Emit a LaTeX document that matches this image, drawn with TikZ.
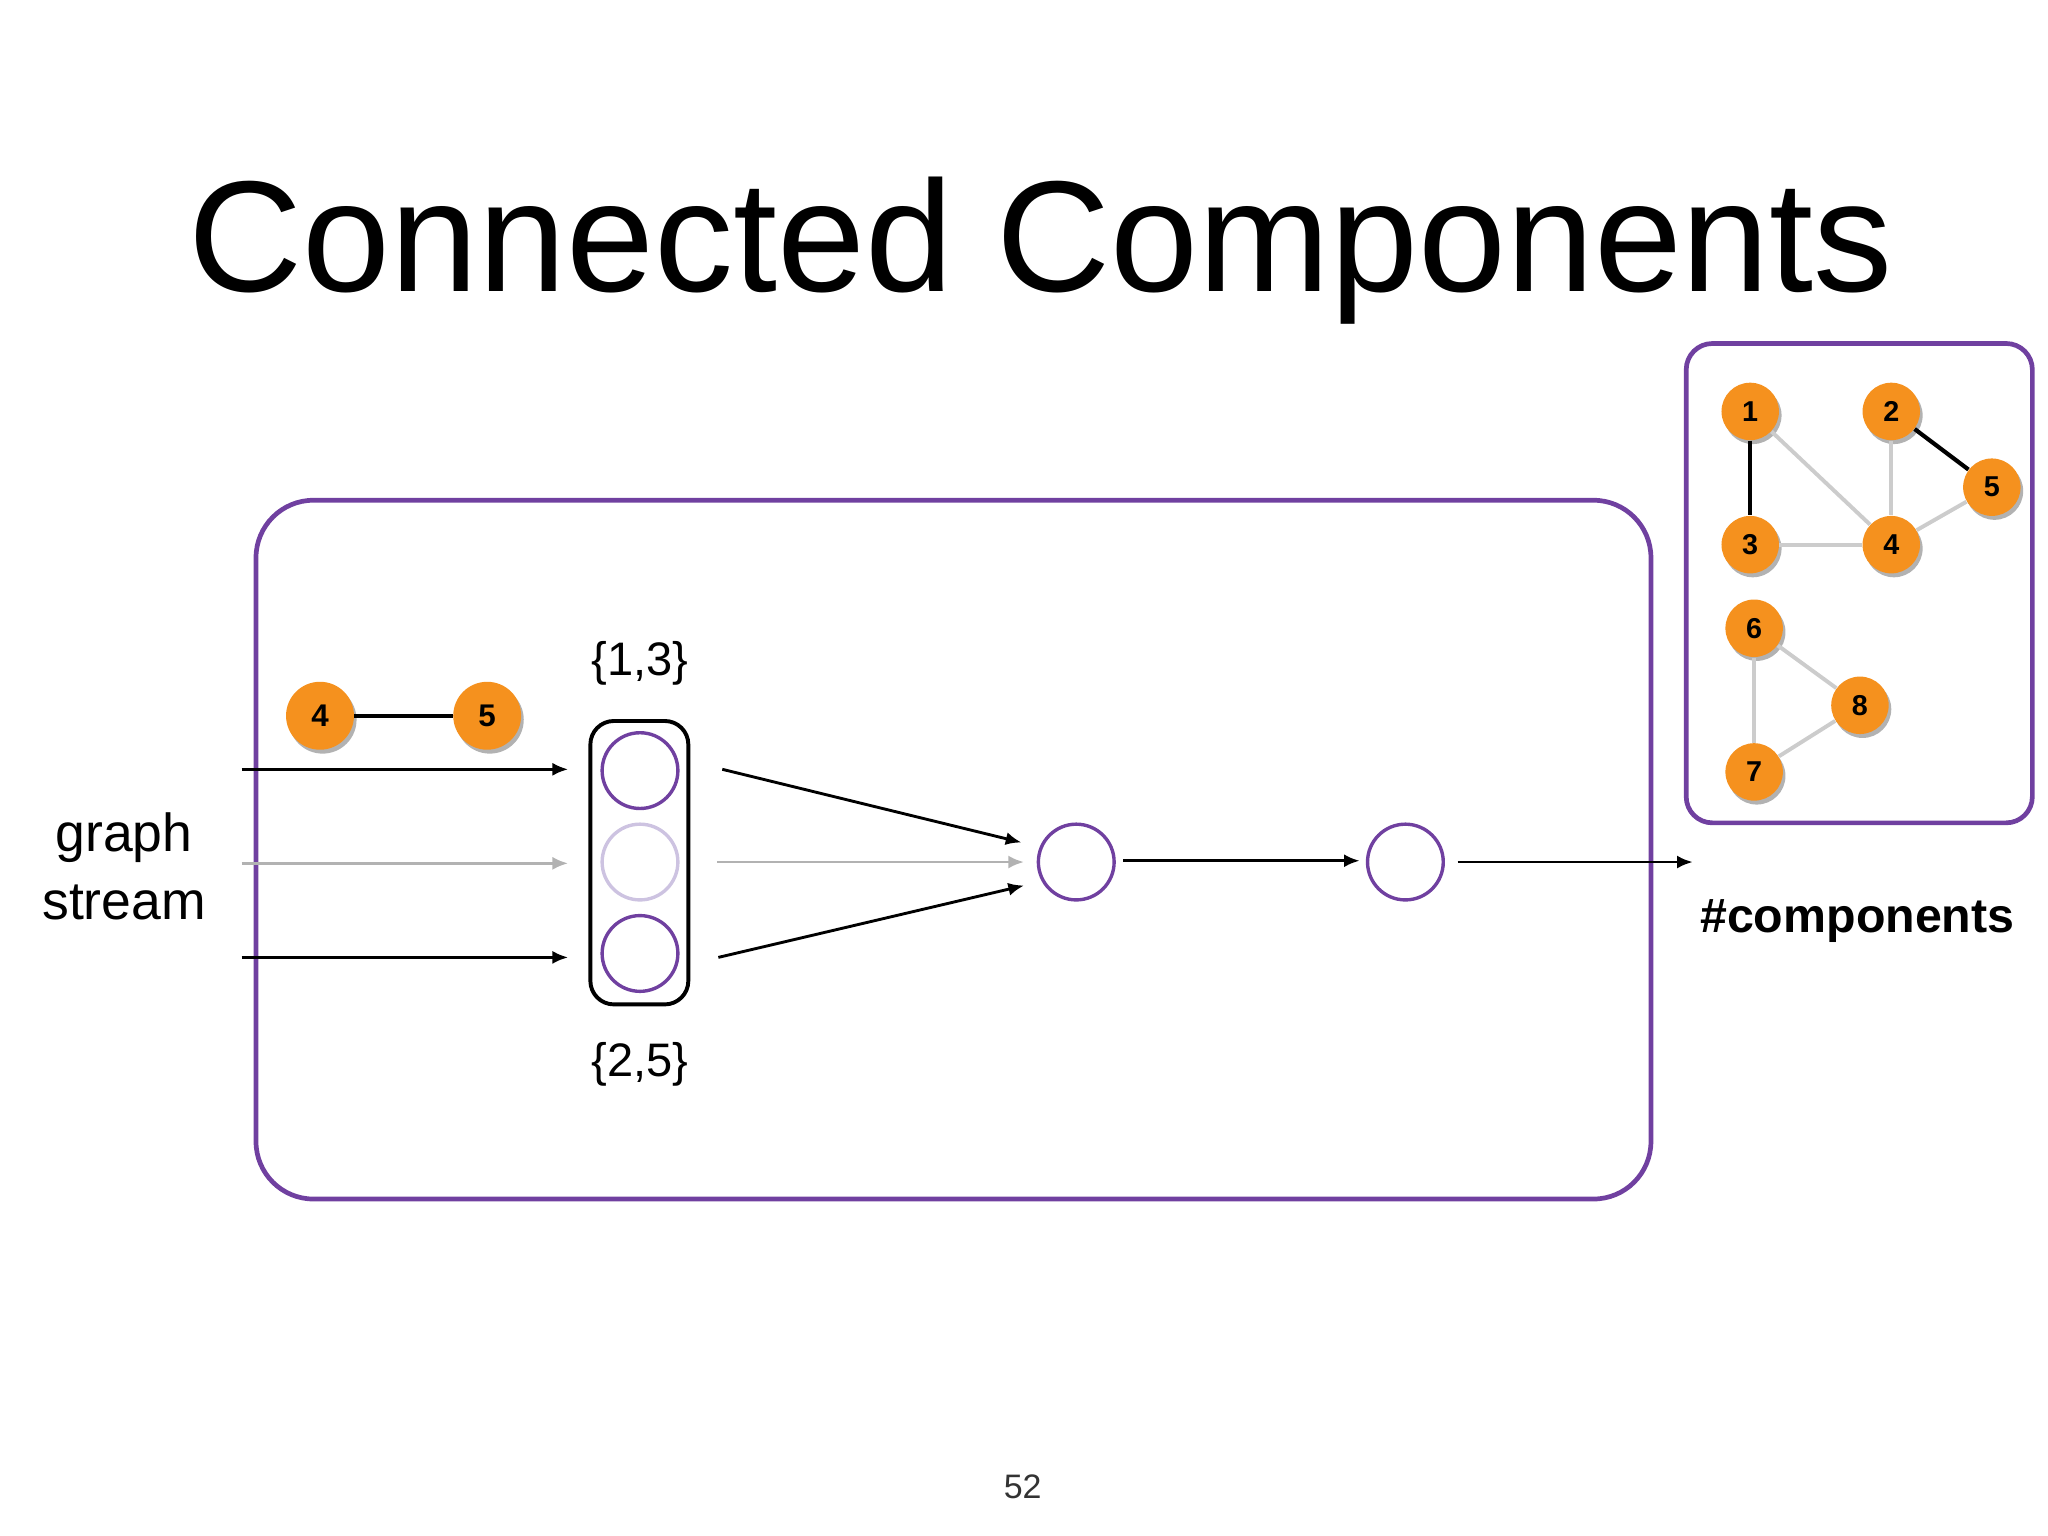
\documentclass[tikz,border=0pt]{standalone}
\usepackage{fontspec}
\setmainfont{Liberation Sans}
\usetikzlibrary{arrows.meta}
\definecolor{pu}{RGB}{112,64,160}
\definecolor{lpu}{RGB}{205,195,225}
\definecolor{orng}{RGB}{245,145,30}
\begin{document}
\begin{tikzpicture}[x=0.5pt,y=-0.5pt,
  purp/.style={draw=pu,line width=1.8pt},
  orange/.style={circle,fill=orng,draw=none,minimum size=26pt,inner sep=0pt,font=\bfseries\fontsize{12}{12}\selectfont,
    preaction={fill=black!30,transform canvas={xshift=1pt,yshift=-1.5pt}}},
  sorange/.style={orange,minimum size=22pt,font=\bfseries\fontsize{11}{11}\selectfont},
  pc/.style={circle,draw=pu,line width=1.3pt,minimum size=29pt,inner sep=0pt},
  arr/.style={-{Latex[length=6pt,width=5pt]},line width=1.1pt},
  garr/.style={arr,draw=black!30},
  gedge/.style={draw=black!20,line width=1.5pt},
  bedge/.style={draw=black,line width=1.6pt}]
\useasboundingbox (0,0) rectangle (1568,1176);
\node (title) at (797,192) {\fontsize{60.5}{70}\selectfont Connected Components};
\draw[purp,rounded corners=22pt] (196,383) rectangle (1264,918);
\draw[purp,rounded corners=10pt] (1291,263) rectangle (1556,630);
% stream
\node[orange] (s4) at (245,548) {4};
\node[orange] (s5) at (373,548) {5};
\draw[bedge] (s4) -- (s5);
\node[align=center,font=\fontsize{20.5}{26}\selectfont] (gs) at (95,663) {graph\\stream};
\draw[line width=1.5pt,rounded corners=9pt] (452,552) rectangle (527,769);
\node[pc] (c1) at (490,590) {};
\node[pc,draw=lpu] (c2) at (490,660) {};
\node[pc] (c3) at (490,730) {};
\node[font=\fontsize{18}{20}\selectfont] (l13) at (490,508) {\{1,3\}};
\node[font=\fontsize{18}{20}\selectfont] (l25) at (490,815) {\{2,5\}};
\coordinate (a1) at (185,589); \coordinate (b1) at (435,589);
\coordinate (a2) at (185,661); \coordinate (b2) at (435,661);
\coordinate (a3) at (185,733); \coordinate (b3) at (435,733);
\draw[arr] (a1) -- (b1);
\draw[garr] (a2) -- (b2);
\draw[arr] (a3) -- (b3);
\node[pc] (m) at (824,660) {};
\node[pc] (n) at (1076,660) {};
\coordinate (o1) at (553,589); \coordinate (o2) at (549,660); \coordinate (o3) at (550,733);
\coordinate (i1) at (782,645); \coordinate (i2) at (784,660); \coordinate (i3) at (784,678);
\draw[arr] (o1) -- (i1);
\draw[garr] (o2) -- (i2);
\draw[arr] (o3) -- (i3);
\coordinate (p1) at (860,659); \coordinate (p2) at (1041,659);
\draw[arr] (p1) -- (p2);
\coordinate (q1) at (1116,660); \coordinate (out) at (1296,660);
\draw[arr] (q1) -- (out);
\node[font=\bfseries\fontsize{18.5}{20}\selectfont] (comp) at (1422,705) {\#components};
% small graph
\node[sorange] (g1) at (1340,315) {1};
\node[sorange] (g2) at (1448,315) {2};
\node[sorange] (g5) at (1525,373) {5};
\node[sorange] (g3) at (1340,417) {3};
\node[sorange] (g4) at (1448,417) {4};
\node[sorange] (g6) at (1343,481) {6};
\node[sorange] (g8) at (1424,540) {8};
\node[sorange] (g7) at (1343,591) {7};
\draw[bedge] (g1) -- (g3);
\draw[bedge] (g2) -- (g5);
\draw[gedge] (g1) -- (g4);
\draw[gedge] (g2) -- (g4);
\draw[gedge] (g3) -- (g4);
\draw[gedge] (g4) -- (g5);
\draw[gedge] (g6) -- (g8);
\draw[gedge] (g6) -- (g7);
\draw[gedge] (g7) -- (g8);
\node[font=\fontsize{13}{14}\selectfont,text=black!80] (pg) at (783,1138) {52};
\end{tikzpicture}
\end{document}
